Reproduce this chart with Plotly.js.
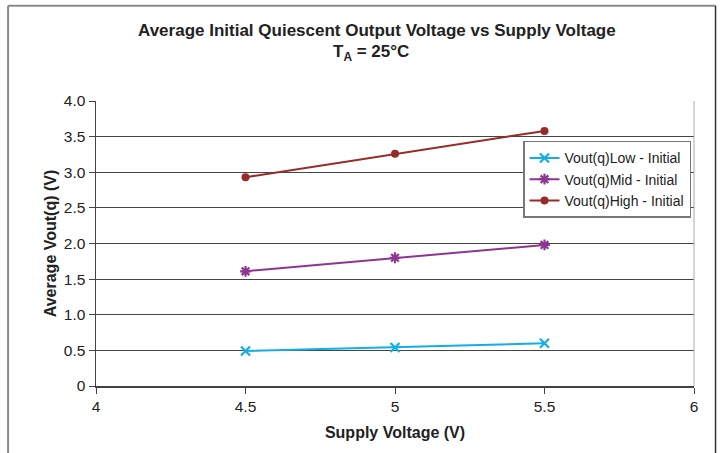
<!DOCTYPE html>
<html>
<head>
<meta charset="utf-8">
<script src="https://cdn.plot.ly/plotly-3.0.1.min.js"></script>
<style>html,body{margin:0;padding:0;background:#fff;}#chart{width:726px;height:453px;}</style>
</head>
<body>
<div id="chart"></div>
<script>
const supplyVoltage = [4.5, 5, 5.5];
const voutLow = [0.49, 0.54, 0.60];
const voutMid = [1.61, 1.80, 1.98];
const voutHigh = [2.93, 3.26, 3.58];
const seriesNames = ["Vout(q)Low - Initial", "Vout(q)Mid - Initial", "Vout(q)High - Initial"];
const xTicks = [4, 4.5, 5, 5.5, 6];
const xTickText = ["4", "4.5", "5", "5.5", "6"];
const yTicks = [0, 0.5, 1, 1.5, 2, 2.5, 3, 3.5, 4];
const yTickText = ["0", "0.5", "1.0", "1.5", "2.0", "2.5", "3.0", "3.5", "4.0"];

const font = "Liberation Sans, Arial, sans-serif";

const traces = [
  {x: supplyVoltage, y: voutLow, name: seriesNames[0], mode: "lines+markers",
   line: {color: "#12aee6", width: 2},
   marker: {symbol: "x-thin-open", size: 9, line: {color: "#12aee6", width: 2.2}, color: "#12aee6"}},
  {x: supplyVoltage, y: voutMid, name: seriesNames[1], mode: "lines+markers",
   line: {color: "#8c3592", width: 2},
   marker: {symbol: "asterisk-open", size: 9, line: {color: "#8c3592", width: 2.2}, color: "#8c3592"}},
  {x: supplyVoltage, y: voutHigh, name: seriesNames[2], mode: "lines+markers",
   line: {color: "#962b28", width: 2},
   marker: {symbol: "circle", size: 8, color: "#962b28"}}
];

const layout = {
  width: 726, height: 453,
  margin: {l: 96, r: 32, t: 101, b: 67},
  paper_bgcolor: "#fff", plot_bgcolor: "#fff",
  font: {family: font, size: 14, color: "#222"},
  showlegend: true,
  legend: {x: 0.995, y: 0.86, xanchor: "right", yanchor: "top",
           bgcolor: "#fff", bordercolor: "#777", borderwidth: 1.5,
           font: {family: font, size: 14, color: "#222"},
           tracegroupgap: 0, itemwidth: 30},
  xaxis: {range: [4, 6], tickvals: xTicks, ticktext: xTickText,
          showgrid: false, zeroline: false, showline: true, linecolor: "#444", linewidth: 1.5,
          ticks: "outside", ticklen: 6, tickcolor: "#444", tickwidth: 1,
          tickfont: {family: font, size: 15.5, color: "#222"},
          title: {text: "<b>Supply Voltage (V)</b>", font: {family: font, size: 16, color: "#222"}, standoff: 12}},
  yaxis: {range: [0, 4], tickvals: yTicks, ticktext: yTickText,
          showgrid: true, gridcolor: "#444", gridwidth: 1, zeroline: false,
          showline: true, linecolor: "#444", linewidth: 1.5,
          ticks: "outside", ticklen: 6, tickcolor: "#444", tickwidth: 1,
          tickfont: {family: font, size: 15.5, color: "#222"},
          title: {text: "<b>Average Vout(q) (V)</b>", font: {family: font, size: 16, color: "#222"}, standoff: 3}},
  annotations: [
    {xref: "paper", yref: "paper", x: 0.47, y: 1.247, xanchor: "center", yanchor: "middle", showarrow: false,
     text: "<b>Average Initial Quiescent Output Voltage vs Supply Voltage</b>",
     font: {family: font, size: 17, color: "#222"}},
    {xref: "paper", yref: "paper", x: 0.46, y: 1.17, xanchor: "center", yanchor: "middle", showarrow: false,
     text: "<b>T<sub>A</sub> = 25°C</b>",
     font: {family: font, size: 17, color: "#222"}}
  ],
  shapes: [
    {type: "line", xref: "paper", yref: "paper", x0: -0.147, x1: 1.036, y0: 1.334, y1: 1.334, line: {color: "#8a8a8a", width: 2}},
    {type: "line", xref: "paper", yref: "paper", x0: -0.147, x1: -0.147, y0: 1.334, y1: -0.24, line: {color: "#8a8a8a", width: 2}},
    {type: "line", xref: "paper", yref: "paper", x0: 1.036, x1: 1.036, y0: 1.334, y1: -0.24, line: {color: "#333", width: 1.5}},
    {type: "line", xref: "paper", yref: "paper", x0: 1, x1: 1, y0: 0, y1: 1, line: {color: "#aaa", width: 1}}
  ]
};

Plotly.newPlot("chart", traces, layout, {displayModeBar: false, staticPlot: true});
</script>
</body>
</html>
